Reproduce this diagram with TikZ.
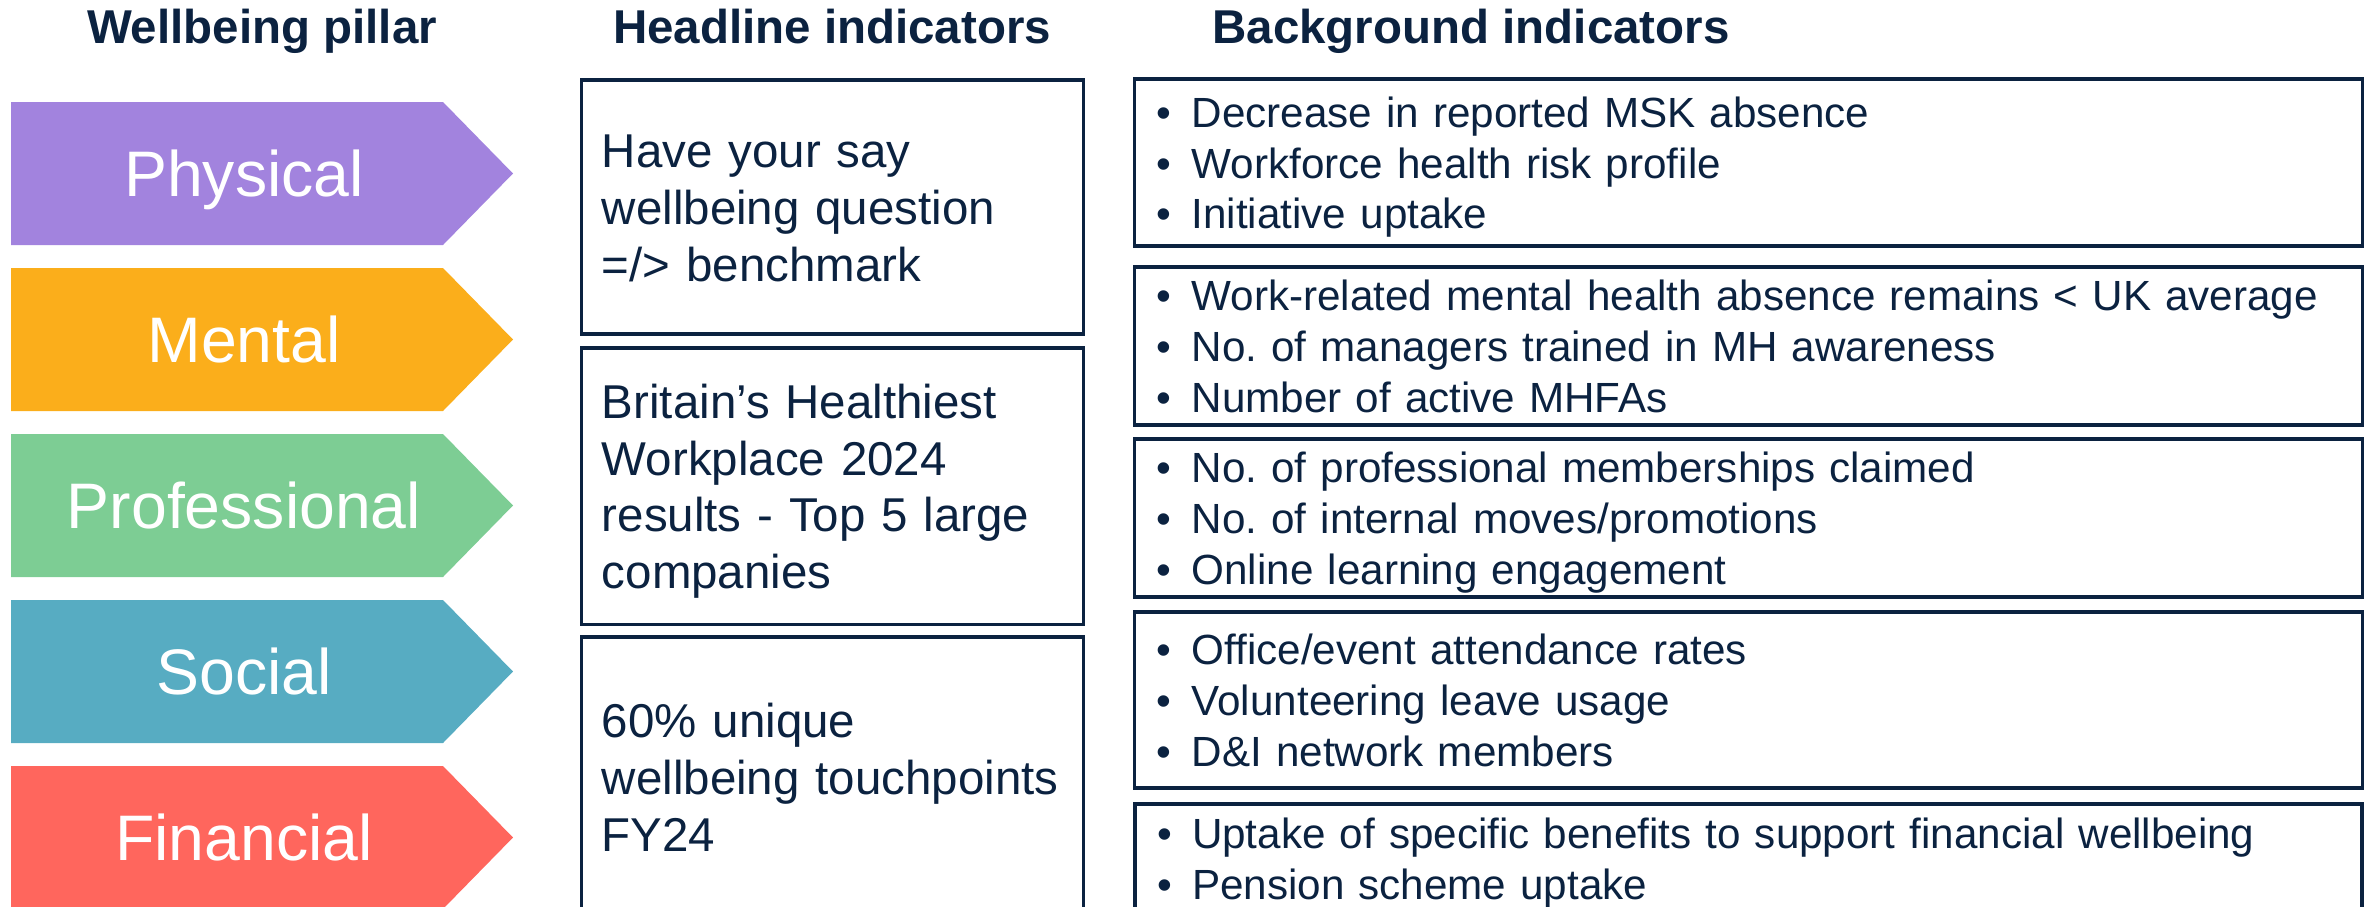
\documentclass[tikz,border=0pt]{standalone}
\usepackage{fontspec}
\setmainfont{Liberation Sans}
\frenchspacing

\definecolor{inkblue}{HTML}{0B2240}
\definecolor{physcol}{HTML}{A283DE}
\definecolor{mentcol}{HTML}{FBAE1B}
\definecolor{profcol}{HTML}{7DCD94}
\definecolor{socicol}{HTML}{57ACC2}
\definecolor{fincol}{HTML}{FF665D}
\newcommand{\bul}{\makebox[0.35cm][l]{•}}
% line boxes with a fixed top and bottom, so that text sits the same way in every box
\newcommand{\topline}{\rule{0pt}{0.99em}}
\newcommand{\botline}{\rule[-0.25em]{0pt}{0.25em}}

\begin{document}
\begin{tikzpicture}[x=0.01cm,y=-0.01cm,
  head/.style={text=inkblue,font=\bfseries\fontsize{13.5}{16}\selectfont,anchor=base},
  pillar/.style={text=white,font=\fontsize{18.3}{22}\selectfont,anchor=base},
  hbox/.style={draw=inkblue,line width=0.9pt,text=inkblue,align=left,
    text width=4.61cm,inner xsep=0.2cm,inner ysep=0pt,font=\fontsize{13.5}{16.1}\selectfont,
    execute at begin node=\topline,execute at end node=\botline},
  bbox/.style={draw=inkblue,line width=0.9pt,text=inkblue,align=left,
    text width=11.83cm,inner xsep=0.22cm,inner ysep=0pt,font=\fontsize{12}{14.4}\selectfont,
    execute at begin node=\topline,execute at end node=\botline}]
\useasboundingbox (0,0) rectangle (2364,906);
\clip (0,0) rectangle (2364,906);

% column titles
\node[head] (pillars) at (262,44) {Wellbeing pillar};
\node[head] (headline) at (832,44) {Headline indicators};
\node[head] (background) at (1471,44) {Background indicators};

% pillar arrows
\foreach \y/\c/\t in {102/physcol/Physical,268/mentcol/Mental,434/profcol/Professional,
  600/socicol/Social,766/fincol/Financial}{
  \fill[\c] (11,\y) -- (443,\y) -- (513,\y+71.5) -- (443,\y+143) -- (11,\y+143) -- cycle;
  \node[pillar] (\t) at (244,\y+94) {\t};
}

% headline indicators
\node[hbox,minimum height=2.54cm] (survey) at (832.5,207)
  {Have your say\\wellbeing question\\=/> benchmark};
\node[hbox,minimum height=2.76cm] (healthiest) at (832.5,486)
  {Britain’s Healthiest\\Workplace 2024\\results - Top 5 large\\companies};
\node[hbox,minimum height=2.80cm] (touchpoints) at (832.5,777)
  {60\% unique\\wellbeing touchpoints\\FY24};

% background indicators
\node[bbox,minimum height=1.67cm] (bgphys) at (1748.5,162.5)
  {\bul Decrease in reported MSK absence\\\bul Workforce health risk profile\\\bul Initiative uptake};
\node[bbox,minimum height=1.58cm] (bgment) at (1748.5,346)
  {\bul Work-related mental health absence remains < UK average\\\bul No. of managers trained in MH awareness\\\bul Number of active MHFAs};
\node[bbox,minimum height=1.58cm] (bgprof) at (1748.5,518)
  {\bul No. of professional memberships claimed\\\bul No. of internal moves/promotions\\\bul Online learning engagement};
\node[bbox,minimum height=1.76cm] (bgsoci) at (1748.5,700)
  {\bul Office/event attendance rates\\\bul Volunteering leave usage\\\bul D\&I network members};
\draw[inkblue,line width=0.9pt] (1135,804) rectangle (2362,960);
\node[bbox,draw=none,outer sep=0pt,anchor=north west,inner ysep=0.03cm] (bgfin) at (1135,804)
  {\bul Uptake of specific benefits to support financial wellbeing\\\bul Pension scheme uptake};
\end{tikzpicture}
\end{document}
